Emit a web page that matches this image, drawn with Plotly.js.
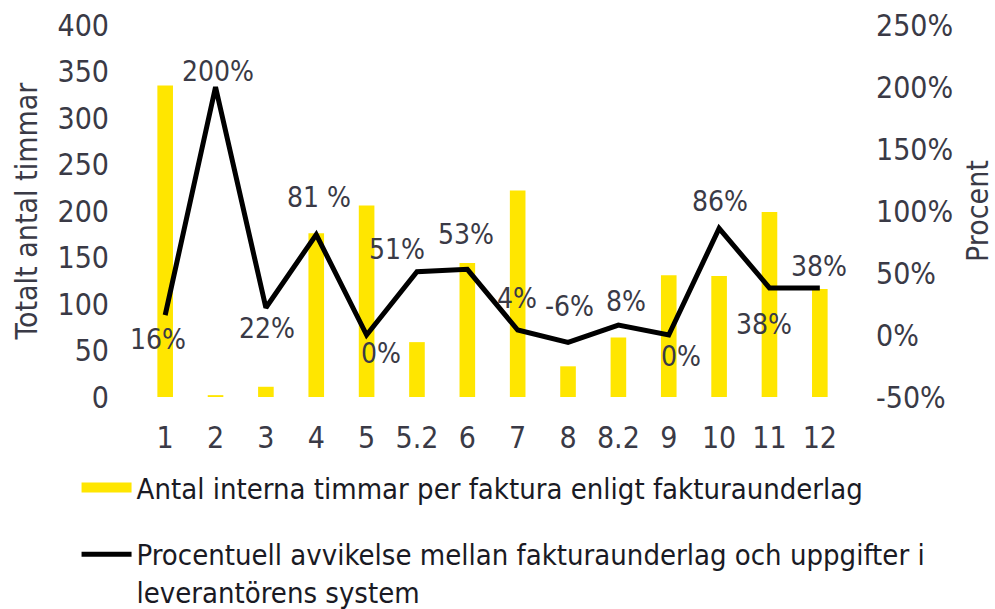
<!DOCTYPE html>
<html>
<head>
<meta charset="utf-8">
<script src="https://cdn.plot.ly/plotly-3.0.1.min.js"></script>
<style>html,body{margin:0;padding:0;background:#fff;}#chart{width:995px;height:609px;}</style>
</head>
<body>
<div id="chart"></div>
<script>
var categories = ["1","2","3","4","5","5.2","6","7","8","8.2","9","10","11","12"];
var hours = [335, 2, 11, 176, 206, 59, 144, 222, 33, 64, 131, 130, 199, 116];
var deviation = [16, 200, 22, 81, 0, 51, 53, 4, -6, 8, 0, 86, 38, 38];
var deviationLabels = ["16%","200%","22%","81 %","0%","51%","53%","4%","-6%","8%","0%","86%","38%","38%"];
var leftTickVals = [0, 50, 100, 150, 200, 250, 300, 350, 400];
var rightTickVals = [-50, 0, 50, 100, 150, 200, 250];
var rightTickText = ["-50%", "0%", "50%", "100%", "150%", "200%", "250%"];
var barName = "Antal interna timmar per faktura enligt fakturaunderlag";
var lineName = "Procentuell avvikelse mellan fakturaunderlag och uppgifter i<br>leverantörens system";

// label offsets from each point (pixels), styling only
var labelDx = [-7, 2, 1, 3, 14, -20, -1, -1, 1, 8, 12, 1, -5, -1];
var labelDy = [-24, 16, -21, 37, -18, 22, 35, 32, 36, 24, -21, 27, -37, 21];

var txtColor = "#3a3a46";
var numFont = "DejaVu Sans Condensed, DejaVu Sans, sans-serif";

var data = [
  {type: "bar", x: categories, y: hours, name: barName, marker: {color: "#FFE600"},
   yaxis: "y", showlegend: false, legendgroup: "a", hoverinfo: "x+y"},
  {type: "scatter", mode: "lines", x: [null], y: [null], name: barName, legendgroup: "a",
   line: {color: "#FFE600", width: 17}, yaxis: "y", hoverinfo: "skip"},
  {type: "scatter", mode: "lines", x: categories, y: deviation, name: lineName, legendgroup: "b",
   yaxis: "y2", line: {color: "#000000", width: 5}, cliponaxis: false}
];

// annotations placed on the category index of each point
var annotations = categories.map(function (c, i) {
  return {x: i, y: deviation[i], xref: "x", yref: "y2", text: deviationLabels[i],
          showarrow: false, xanchor: "center", yanchor: "middle",
          xshift: labelDx[i], yshift: labelDy[i],
          font: {family: numFont, size: 28, color: txtColor}};
});

var layout = {
  width: 995, height: 609,
  margin: {l: 140, r: 150, t: 25, b: 212, autoexpand: false},
  paper_bgcolor: "#ffffff", plot_bgcolor: "#ffffff",
  bargap: 0.69,
  showlegend: true,
  annotations: annotations,
  xaxis: {type: "category", range: [-0.5, categories.length - 0.5], showgrid: false, showline: false, zeroline: false, ticks: "",
          ticklabelstandoff: 20, automargin: false,
          tickfont: {family: numFont, size: 30, color: txtColor}},
  yaxis: {range: [0, 400], tickvals: leftTickVals, showgrid: false, zeroline: false, showline: false, ticks: "",
          ticklabelstandoff: 30, automargin: false,
          tickfont: {family: numFont, size: 30, color: txtColor},
          title: {text: "Totalt antal timmar", standoff: 10, font: {family: numFont, size: 30, color: txtColor}}},
  yaxis2: {range: [-50, 250], tickvals: rightTickVals, ticktext: rightTickText, overlaying: "y", side: "right",
           showgrid: false, zeroline: false, showline: false, ticks: "",
           ticklabelstandoff: 30, automargin: false,
           tickfont: {family: numFont, size: 30, color: txtColor},
           title: {text: "Procent", standoff: 14, font: {family: numFont, size: 30, color: txtColor}}},
  legend: {orientation: "v", x: -0.09, xanchor: "left", y: -0.175, yanchor: "top",
           font: {family: numFont, size: 29, color: "#1a1a24"},
           itemwidth: 50, tracegroupgap: 26, valign: "top", bgcolor: "rgba(0,0,0,0)"}
};

Plotly.newPlot("chart", data, layout, {displayModeBar: false, staticPlot: true});
</script>
</body>
</html>
